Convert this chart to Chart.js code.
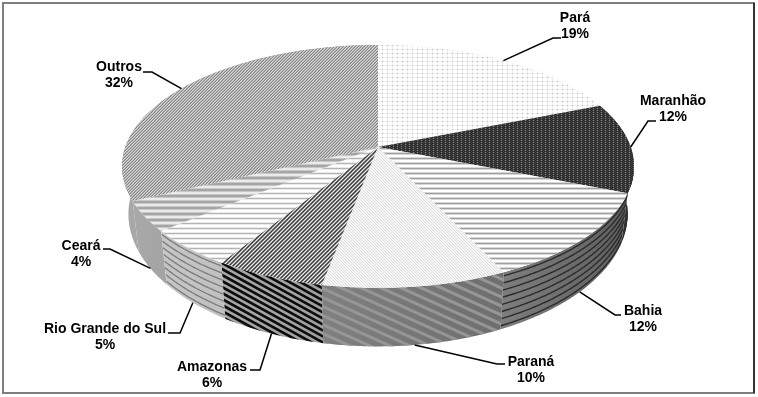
<!DOCTYPE html>
<html>
<head>
<meta charset="utf-8">
<script src="https://cdn.jsdelivr.net/npm/chart.js@4"></script>
<style>
  html, body { margin: 0; background: #fff; }
  canvas { display: block; }
</style>
</head>
<body>
<canvas id="chart" width="758" height="397"></canvas>
<script>
const categories = ["Pará", "Maranhão", "Bahia", "Paraná", "Amazonas", "Rio Grande do Sul", "Ceará", "Outros"];
const values = [19, 12, 12, 10, 6, 5, 4, 32];

// where the two text lines of each label sit, and where its leader line ends
const labelX = [575, 673, 643, 531, 212, 105, 81, 119];
const labelY = [18, 101, 311, 362, 367, 329, 246, 67];
const elbowX = [553, 648, 615, 497, 260, 180, 110, 152];
const elbowY = [38, 121, 315, 364, 370, 333, 249, 72];
const tailX = [561, 656, 621, 505, 250, 168, 103, 143];

// perspective of the pie, relative to the radius chart.js gives us
const KP = -0.16;
const AX = 1.719;
const BY = 0.805;

function tile(w, h, fn) {
  const c = document.createElement("canvas");
  c.width = w;
  c.height = h;
  const x = c.getContext("2d");
  const img = x.createImageData(w, h);
  for (let j = 0; j < h; j++) {
    for (let i = 0; i < w; i++) {
      const g = fn(i, j);
      const o = (j * w + i) * 4;
      img.data[o] = img.data[o + 1] = img.data[o + 2] = g;
      img.data[o + 3] = 255;
    }
  }
  x.putImageData(img, 0, 0);
  return x.createPattern(c, "repeat");
}

const faces = [
  tile(5, 4, (x, y) => (x % 5 == 2 && y % 4 == 1 ? 190 : (x % 5 == 2 || y % 4 == 1) ? 238 : 255)),
  tile(4, 4, (x, y) => (x % 4 == 1 && y % 2 == 0 ? 125 : (x + y) % 2 ? 40 : 62)),
  tile(1, 5, (x, y) => [255, 255, 215, 160, 215][y]),
  tile(3, 3, (x, y) => [255, 240, 220][(x - y + 30) % 3]),
  tile(4, 4, (x, y) => [235, 120, 60, 150][(x + y) % 4]),
  tile(1, 5, (x, y) => [255, 255, 235, 180, 235][y]),
  tile(1, 6, (x, y) => [235, 235, 200, 165, 165, 200][y]),
  tile(3, 3, (x, y) => [215, 175, 135][(x + y) % 3]),
];

// side wall of each slice: base colours left/right, stripe kind and colour
const walls = [
  { a: "#eeeeee", b: "#eeeeee", kind: "none" },
  { a: "#6a6a6a", b: "#5a5a5a", kind: "h", n: 8, color: "#2c2c2c", width: 1.4 },
  { a: "#7e7e7e", b: "#5e5e5e", kind: "h", n: 8, color: "#2c2c2c", width: 1.4 },
  { a: "#808080", b: "#6e6e6e", kind: "d", gap: 9, slope: 0.45, color: "#969696", width: 3 },
  { a: "#a8a8a8", b: "#a0a0a0", kind: "d", gap: 6, slope: 0.55, color: "#0c0c0c", width: 2.6 },
  { a: "#c6c6c6", b: "#c0c0c0", kind: "h", n: 8, color: "#7c7c7c", width: 1.3 },
  { a: "#a8a8a8", b: "#a4a4a4", kind: "none" },
  { a: "#a8a8a8", b: "#a8a8a8", kind: "none" },
];

// point on the top disc for an angle coming from the arc element
function topPoint(el, ang) {
  const u = Math.cos(ang);
  const v = Math.sin(ang);
  const w = 1 + KP * v;
  return {
    x: el.x + (el.outerRadius * AX * u) / w,
    y: el.y + (el.outerRadius * BY * v) / w,
  };
}

// same point on the bottom disc, the wall narrows and grows towards the viewer
function bottomPoint(el, ang) {
  const p = topPoint(el, ang);
  const r = el.outerRadius;
  return {
    x: el.x + (p.x - el.x) * 0.975,
    y: p.y + r * 0.34 + (p.y - el.y - r * 0.313) * 0.09,
  };
}

function rim(el, a0, a1, fn) {
  const n = Math.max(2, Math.ceil(Math.abs(a1 - a0) / 0.01));
  const pts = [];
  for (let i = 0; i <= n; i++) pts.push(fn(el, a0 + ((a1 - a0) * i) / n));
  return pts;
}

function tracePts(ctx, pts) {
  pts.forEach((p) => ctx.lineTo(p.x, p.y));
}

function drawWall(ctx, el, st) {
  const a = rim(el, el.startAngle, el.endAngle, topPoint);
  const b = rim(el, el.startAngle, el.endAngle, bottomPoint);
  const all = a.concat(b);
  const x0 = Math.min(...all.map((p) => p.x));
  const x1 = Math.max(...all.map((p) => p.x));
  const y0 = Math.min(...all.map((p) => p.y));
  const y1 = Math.max(...all.map((p) => p.y));

  ctx.save();
  ctx.beginPath();
  tracePts(ctx, a);
  tracePts(ctx, b.slice().reverse());
  ctx.closePath();
  const g = ctx.createLinearGradient(x0, 0, x1, 0);
  g.addColorStop(0, st.a);
  g.addColorStop(1, st.b);
  ctx.fillStyle = g;
  ctx.fill();
  ctx.clip();

  ctx.strokeStyle = st.color || "#000";
  ctx.lineWidth = st.width || 1;
  if (st.kind == "h") {
    for (let k = 0; k < st.n; k++) {
      const t = (k + 0.5) / st.n;
      ctx.beginPath();
      tracePts(ctx, a.map((p, i) => ({ x: p.x + (b[i].x - p.x) * t, y: p.y + (b[i].y - p.y) * t })));
      ctx.stroke();
    }
  } else if (st.kind == "d") {
    const span = x1 - x0;
    for (let yy = y0 - span; yy < y1 + span; yy += st.gap) {
      ctx.beginPath();
      ctx.moveTo(x0, yy);
      ctx.lineTo(x1, yy + span * st.slope);
      ctx.stroke();
    }
  }
  ctx.restore();
}

const pie3d = {
  id: "pie3d",
  beforeDraw(chart) {
    const ctx = chart.ctx;
    ctx.save();
    ctx.fillStyle = "#fff";
    ctx.fillRect(0, 0, chart.width, chart.height);
    ctx.strokeStyle = "#7f7f7f";
    ctx.lineWidth = 2;
    ctx.strokeRect(3, 3, 751, 390);
    ctx.beginPath();
    ctx.moveTo(754, 3);
    ctx.lineTo(754, 393);
    ctx.strokeStyle = "#333";
    ctx.stroke();
    ctx.restore();
  },
  beforeDatasetsDraw(chart) {
    const ctx = chart.ctx;
    const els = chart.getDatasetMeta(0).data;

    // walls from the back to the front, then the top faces over them
    const order = els.map((el, i) => i).sort((p, q) => {
      return Math.sin((els[p].startAngle + els[p].endAngle) / 2) - Math.sin((els[q].startAngle + els[q].endAngle) / 2);
    });
    order.forEach((i) => drawWall(ctx, els[i], walls[i]));

    els.forEach((el) => {
      ctx.beginPath();
      ctx.moveTo(el.x, el.y);
      tracePts(ctx, rim(el, el.startAngle, el.endAngle, topPoint));
      ctx.closePath();
      ctx.fillStyle = el.options.backgroundColor;
      ctx.fill();
    });

    // labels with leader lines from the middle of the slice
    ctx.font = "bold 14px 'Liberation Sans', Arial, sans-serif";
    ctx.textAlign = "center";
    ctx.textBaseline = "middle";
    els.forEach((el, i) => {
      const mid = (el.startAngle + el.endAngle) / 2;
      const start = Math.sin(mid) > 0.3 ? bottomPoint(el, mid) : topPoint(el, mid);
      ctx.beginPath();
      ctx.moveTo(start.x, start.y);
      ctx.lineTo(elbowX[i], elbowY[i]);
      ctx.lineTo(tailX[i], elbowY[i]);
      ctx.strokeStyle = "#000";
      ctx.lineWidth = 1.5;
      ctx.stroke();
      ctx.fillStyle = "#000";
      ctx.fillText(categories[i], labelX[i], labelY[i]);
      ctx.fillText(values[i] + "%", labelX[i], labelY[i] + 16);
    });
    return false;
  },
};

new Chart(document.getElementById("chart"), {
  type: "pie",
  data: {
    labels: categories,
    datasets: [{ data: values, backgroundColor: faces, borderWidth: 0 }],
  },
  options: {
    responsive: false,
    animation: false,
    layout: { padding: { top: 0, left: 0, right: 2, bottom: 103 } },
    plugins: { legend: { display: false }, tooltip: { enabled: false } },
  },
  plugins: [pie3d],
});
</script>
</body>
</html>
